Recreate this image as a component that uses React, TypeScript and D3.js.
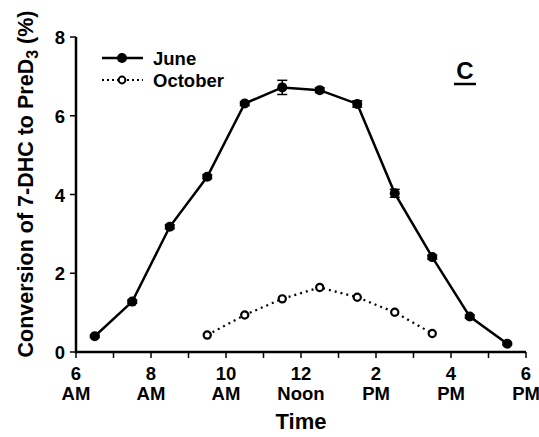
import React from 'react';
import { scaleLinear, line } from 'd3';

// hours of day (24h) at which samples were taken
const juneHours = [6.5, 7.5, 8.5, 9.5, 10.5, 11.5, 12.5, 13.5, 14.5, 15.5, 16.5, 17.5];
const juneValues = [0.4, 1.28, 3.18, 4.45, 6.31, 6.72, 6.65, 6.3, 4.03, 2.41, 0.9, 0.21];
const juneErrors = [0.03, 0.04, 0.05, 0.05, 0.05, 0.18, 0.06, 0.08, 0.1, 0.05, 0.04, 0.03];
const octHours = [9.5, 10.5, 11.5, 12.5, 13.5, 14.5, 15.5];
const octValues = [0.43, 0.94, 1.35, 1.64, 1.39, 1.01, 0.47];
const xTicks = [6, 8, 10, 12, 14, 16, 18];
const xMinorTicks = [7, 9, 11, 13, 15, 17];
const xTickTop = ['6', '8', '10', '12', '2', '4', '6'];
const xTickBottom = ['AM', 'AM', 'AM', 'Noon', 'PM', 'PM', 'PM'];
const yTicks = [0, 2, 4, 6, 8];

const font = 'Liberation Sans, Arial, sans-serif';

export default function App() {
  const x = scaleLinear().domain([6, 18]).range([76, 526]);
  const y = scaleLinear().domain([0, 8]).range([352, 37]);

  const juneLine = line<number>()
    .x((d, i) => x(juneHours[i]))
    .y((d) => y(d));
  const octLine = line<number>()
    .x((d, i) => x(octHours[i]))
    .y((d) => y(d));

  return (
    <svg
      width={539}
      height={437}
      style={{ position: 'absolute', left: 0, top: 0, background: '#fff' }}
      fontFamily={font}
      fontWeight="bold"
    >
      {/* axes */}
      <line x1={x(6)} x2={x(6)} y1={y(8)} y2={y(0) + 1} stroke="#000" strokeWidth={2.5} />
      <line x1={x(6) - 1} x2={x(18)} y1={y(0)} y2={y(0)} stroke="#000" strokeWidth={2.5} />
      {yTicks.map((t) => (
        <g key={'y' + t}>
          <line x1={x(6) - 6} x2={x(6)} y1={y(t)} y2={y(t)} stroke="#000" strokeWidth={1.5} />
          <text x={x(6) - 11} y={y(t) + 7} fontSize={18.5} textAnchor="end">
            {t}
          </text>
        </g>
      ))}
      {xTicks.concat(xMinorTicks).map((t) => (
        <line key={'xt' + t} x1={x(t)} x2={x(t)} y1={y(0)} y2={y(0) + 6} stroke="#000" strokeWidth={1.5} />
      ))}
      {xTicks.map((t, i) => (
        <g key={'xl' + t}>
          <text x={x(t)} y={380} fontSize={18.5} textAnchor="middle">
            {xTickTop[i]}
          </text>
          <text x={x(t)} y={400} fontSize={18.5} textAnchor="middle">
            {xTickBottom[i]}
          </text>
        </g>
      ))}
      <text x={301} y={429} fontSize={22} textAnchor="middle">
        Time
      </text>
      <text transform="translate(33,184) rotate(-90)" fontSize={21.5} textAnchor="middle">
        Conversion of 7-DHC to PreD<tspan fontSize={16} dy={5}>3</tspan>
        <tspan dy={-5}> (%)</tspan>
      </text>

      {/* October */}
      <path d={octLine(octValues) || ''} fill="none" stroke="#000" strokeWidth={2.2} strokeDasharray="2,4" />
      {octValues.map((v, i) => (
        <circle key={'o' + i} cx={x(octHours[i])} cy={y(v)} r={3.6} fill="#fff" stroke="#000" strokeWidth={2.2} />
      ))}

      {/* June */}
      <path d={juneLine(juneValues) || ''} fill="none" stroke="#000" strokeWidth={2.5} />
      {juneValues.map((v, i) => {
        const cx = x(juneHours[i]);
        const top = y(v + juneErrors[i]);
        const bot = y(v - juneErrors[i]);
        return (
          <g key={'j' + i}>
            <line x1={cx} x2={cx} y1={top} y2={bot} stroke="#000" strokeWidth={1.5} />
            <line x1={cx - 5} x2={cx + 5} y1={top} y2={top} stroke="#000" strokeWidth={1.5} />
            <line x1={cx - 5} x2={cx + 5} y1={bot} y2={bot} stroke="#000" strokeWidth={1.5} />
            <circle cx={cx} cy={y(v)} r={5} fill="#000" />
          </g>
        );
      })}

      {/* legend */}
      <line x1={102} x2={143} y1={58} y2={58} stroke="#000" strokeWidth={2.5} />
      <circle cx={122} cy={58} r={5} fill="#000" />
      <text x={153} y={65} fontSize={18.5}>
        June
      </text>
      <line x1={102} x2={143} y1={80} y2={80} stroke="#000" strokeWidth={2} strokeDasharray="2,3" />
      <circle cx={122} cy={80} r={3.4} fill="#fff" stroke="#000" strokeWidth={2} />
      <text x={153} y={87} fontSize={18.5}>
        October
      </text>

      {/* panel letter */}
      <text x={465} y={79} fontSize={24} textAnchor="middle">
        C
      </text>
      <line x1={454} x2={476} y1={84} y2={84} stroke="#000" strokeWidth={2.5} />
    </svg>
  );
}
